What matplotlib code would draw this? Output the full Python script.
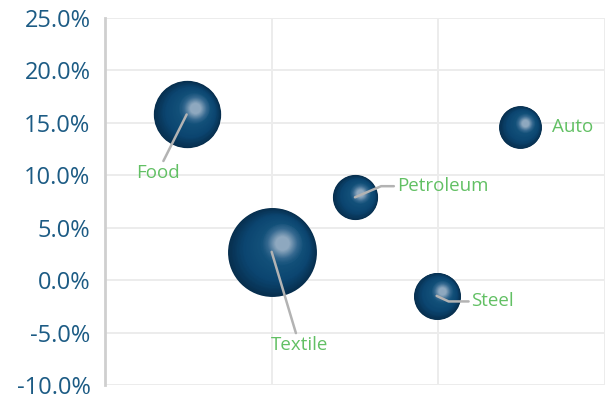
import matplotlib
matplotlib.use("Agg")
import matplotlib.pyplot as plt
import matplotlib.transforms as mtransforms
from matplotlib.colors import LinearSegmentedColormap
import numpy as np

# ---- data ----
industries = ["Food", "Textile", "Petroleum", "Steel", "Auto"]
x_vals = [0.49, 1.00, 1.50, 1.99, 2.49]
y_vals = [15.8, 2.7, 7.9, -1.5, 14.6]          # percent
bubble_sizes = [1090, 1900, 490, 530, 440]
y_ticks = [-10, -5, 0, 5, 10, 15, 20, 25]

# label placement (offset points) and leader styles
label_offsets = {
    "Food": (-21, -42, "center", "center", None),
    "Textile": (20, -67, "center", "center", None),
    "Petroleum": (30, 8, "left", "center", "angle,angleA=0,angleB=23,rad=0"),
    "Steel": (25, -4, "left", "center", "angle,angleA=0,angleB=-25,rad=0"),
    "Auto": (23, 0, "left", "center", "none"),
}

plt.rcParams['font.family'] = ['Open Sans', 'DejaVu Sans']

fig = plt.figure(figsize=(6.08, 3.97), dpi=100)
ax = fig.add_axes([0.1727, 0.0302, 0.8223, 0.9245])
ax.set_xlim(0, 3)
ax.set_ylim(-10, 25)
ax.set_xticks([0, 1, 2, 3])
ax.set_xticklabels([])
ax.set_yticks(y_ticks)
ax.set_yticklabels([f"{v:.1f}%" for v in y_ticks])
ax.tick_params(axis='y', length=0, pad=10.5, labelsize=17, labelcolor="#1c5b84")
ax.tick_params(axis='x', length=0)
ax.grid(True, color="#ececec", lw=1.4)
ax.set_axisbelow(True)
for s in ["top", "right", "bottom"]:
    ax.spines[s].set_visible(False)
ax.spines["left"].set_color("#cfcfcf")
ax.spines["left"].set_linewidth(2)

# bubble gradient
cmap = LinearSegmentedColormap.from_list(
    "bub", [(0.0, "#072f4e"), (0.3, "#0b4570"), (0.62, "#125079"),
            (0.78, "#34688f"), (1.0, "#8ea8bf")])
max_diam_pt = 64.0
N = 50
for name, x, y, s in zip(industries, x_vals, y_vals, bubble_sizes):
    d = max_diam_pt * np.sqrt(s / max(bubble_sizes))
    r = d / 2
    for k in range(N):
        t = k / (N - 1)
        rad = r * (1 - 0.84 * t)
        dx = 0.24 * r * min(t / 0.7, 1)
        dy = 0.20 * r * min(t / 0.7, 1)
        off = mtransforms.ScaledTranslation(dx / 72, dy / 72, fig.dpi_scale_trans)
        ax.scatter([x], [y], s=(2 * rad) ** 2, color=cmap(t), lw=0,
                   transform=ax.transData + off, zorder=3 + k * 0.001)

# labels
for name, x, y in zip(industries, x_vals, y_vals):
    ox, oy, ha, va, cs = label_offsets[name]
    if cs == "none":
        ax.annotate(name, (x, y), xytext=(ox, oy), textcoords="offset points",
                    ha=ha, va=va, color="#62c064", fontsize=13.5, zorder=10)
    else:
        ap = dict(arrowstyle='-', color="#b3b3b3", lw=1.8, shrinkA=0, shrinkB=0)
        if cs:
            ap["connectionstyle"] = cs
        ax.annotate(name, (x, y), xytext=(ox, oy), textcoords="offset points",
                    ha=ha, va=va, color="#62c064", fontsize=13.5, zorder=10,
                    arrowprops=ap)

fig.savefig("out.png", dpi=100)
